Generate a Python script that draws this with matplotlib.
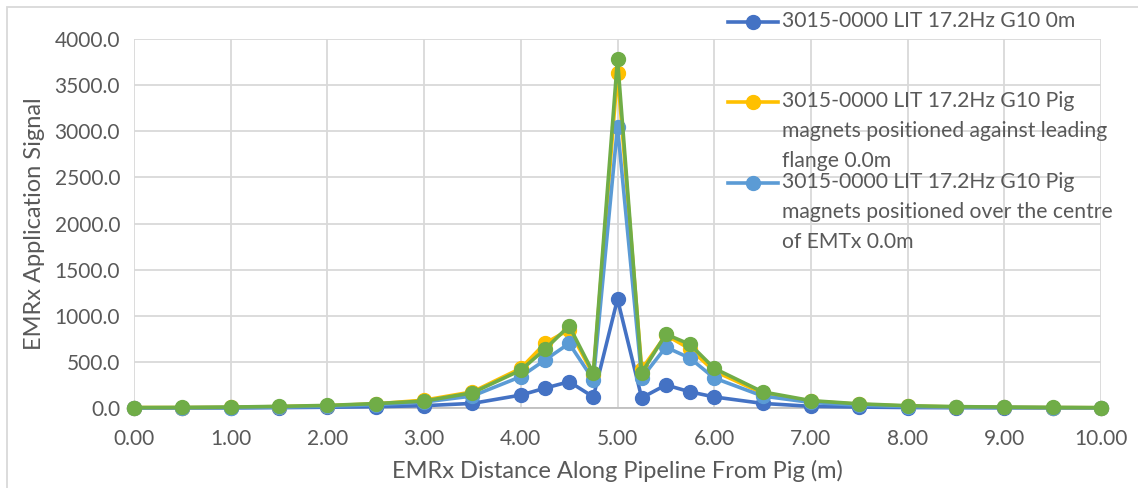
import matplotlib.pyplot as plt
from matplotlib.lines import Line2D
from matplotlib.patches import Rectangle
from matplotlib.ticker import FormatStrFormatter, MultipleLocator

plt.rcParams['font.family'] = ['Lato', 'DejaVu Sans']

distance = [0, 0.5, 1, 1.5, 2, 2.5, 3, 3.5, 4, 4.25, 4.5, 4.75, 5,
            5.25, 5.5, 5.75, 6, 6.5, 7, 7.5, 8, 8.5, 9, 9.5, 10]

signal_0m = [0, 0, 1, 4, 8, 14, 25, 50, 140, 215, 285, 120, 1180,
             110, 250, 175, 120, 50, 18, 10, 5, 3, 2, 1, 0]
signal_flange = [5, 5, 8, 15, 25, 45, 85, 175, 430, 700, 850, 360, 3635,
                 420, 790, 640, 400, 160, 75, 40, 20, 12, 8, 5, 3]
signal_centre = [2, 3, 5, 10, 18, 35, 65, 130, 340, 520, 700, 305, 3050,
                 325, 660, 540, 325, 130, 60, 30, 15, 10, 6, 4, 2]
signal_green = [5, 6, 10, 18, 28, 48, 75, 165, 410, 637, 890, 378, 3783,
                380, 800, 690, 430, 175, 80, 45, 25, 15, 10, 6, 4]

labels = ['3015-0000 LIT 17.2Hz G10 0m',
          '3015-0000 LIT 17.2Hz G10 Pig\nmagnets positioned against leading\nflange 0.0m',
          '3015-0000 LIT 17.2Hz G10 Pig\nmagnets positioned over the centre\nof EMTx 0.0m']
colors = ['#4472C4', '#FFC000', '#5B9BD5', '#70AD47']
text_grey = '#595959'

fig = plt.figure(figsize=(11.38, 4.88), dpi=100)
ax = fig.add_axes([134 / 1138, 1 - 408 / 488, (1101 - 134) / 1138, (408 - 39) / 488])

for ys, c in zip([signal_0m, signal_flange, signal_centre, signal_green], colors):
    ax.plot(distance, ys, color=c, lw=2.6, marker='o', markersize=10, clip_on=False, zorder=3)

ax.set_xlim(0, 10)
ax.set_ylim(0, 4000)
ax.xaxis.set_major_locator(MultipleLocator(1))
ax.yaxis.set_major_locator(MultipleLocator(500))
ax.xaxis.set_major_formatter(FormatStrFormatter('%.2f'))
ax.yaxis.set_major_formatter(FormatStrFormatter('%.1f'))
ax.grid(True, color='#D9D9D9', lw=1.3)
ax.set_axisbelow(True)
for side in ['top', 'right', 'left']:
    ax.spines[side].set_visible(False)
ax.spines['bottom'].set_color('#BFBFBF')
ax.spines['bottom'].set_linewidth(1.3)
ax.tick_params(length=0, labelsize=15, colors=text_grey, pad=15)
ax.tick_params(axis='y', pad=10)

ax.set_xlabel('EMRx Distance Along Pipeline From Pig (m)', fontsize=17, color=text_grey, labelpad=8)
ax.set_ylabel('EMRx Application Signal', fontsize=17, color=text_grey, labelpad=7)

# legend drawn by hand so it overlaps the plot like the original
legend_y = [22, 102, 183]
for lab, c, yp in zip(labels, colors[:3], legend_y):
    fy = 1 - yp / 488
    fig.add_artist(Line2D([728 / 1138, 778 / 1138], [fy, fy], color=c, lw=2.6,
                          transform=fig.transFigure))
    fig.add_artist(Line2D([753 / 1138], [fy], color=c, marker='o', markersize=10,
                          transform=fig.transFigure))
    fig.text(782 / 1138, fy + 11 / 488, lab, fontsize=15.2, color=text_grey, va='top',
             ha='left', linespacing=1.62, transform=fig.transFigure)

fig.add_artist(Rectangle((7 / 1138, -0.1), 1.2, 1 - 7 / 488 + 0.1, fill=False,
                         edgecolor='#D9D9D9', lw=1.3, transform=fig.transFigure))

fig.savefig('out.png', dpi=100)
